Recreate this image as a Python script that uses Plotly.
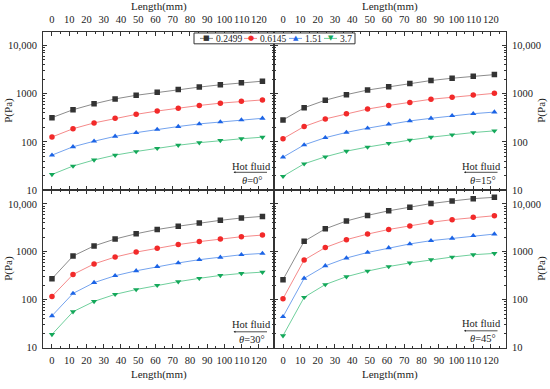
import plotly.graph_objects as go

length_mm = [0, 12.2, 24.4, 36.6, 48.8, 61.0, 73.2, 85.4, 97.6, 109.8, 122.0]
series_names = ["0.2499", "0.6145", "1.51", "3.7"]

p_theta0 = [
    [318, 464, 615, 778, 925, 1065, 1227, 1369, 1528, 1679, 1815],
    [126, 187, 247, 308, 372, 436, 501, 569, 635, 697, 742],
    [53, 79, 103, 130, 155, 181, 208, 236, 259, 285, 308],
    [21, 31.5, 42, 53, 63, 73.5, 85, 96, 107, 116, 125],
]
p_theta15 = [
    [285, 509, 731, 955, 1189, 1390, 1626, 1873, 2091, 2297, 2486],
    [116, 208, 299, 384, 479, 569, 655, 766, 841, 939, 1016],
    [48, 86.5, 122, 157, 192, 232, 272, 308, 349, 384, 415],
    [19.3, 35, 49, 64, 78, 93, 109, 125, 140, 156, 169],
]
p_theta30 = [
    [274, 815, 1328, 1849, 2380, 2923, 3423, 4005, 4545, 5075, 5490],
    [117, 336, 558, 777, 985, 1189, 1415, 1631, 1849, 2065, 2235],
    [46, 135, 227, 316, 401, 492, 585, 685, 765, 868, 925],
    [18.8, 56, 92, 129, 163, 200, 238, 279, 321, 353, 376],
]
p_theta45 = [
    [262, 1656, 3015, 4400, 5760, 7180, 8540, 10170, 11530, 12880, 13720],
    [105, 675, 1227, 1792, 2342, 2923, 3476, 4131, 4690, 5240, 5665],
    [44, 279, 508, 741, 968, 1208, 1460, 1709, 1908, 2168, 2344],
    [17.7, 112, 207, 302, 395, 492, 585, 685, 777, 868, 925],
]
panel_angles = ["0°", "15°", "30°", "45°"]
y_tickvals = [10, 100, 1000, 10000]
y_ticktext = ["10", "100", "1000", "10,000"]
x_tickvals = [0, 10, 20, 30, 40, 50, 60, 70, 80, 90, 100, 110, 120]

marker_colors = ["#333333", "#f22a2a", "#1c64e6", "#14a85a"]
line_colors = ["#8c8c8c", "#f58a8a", "#74a3ee", "#6fcf9c"]
symbols = ["square", "circle", "triangle-up", "triangle-down"]
legend_glyphs = ["■", "●", "▲", "▼"]

W, H = 550, 389
FONT = "Liberation Serif, Times New Roman, serif"

def px_x(v):
    return v / W

def px_y(v):
    return 1 - v / H

xl, xm, xr = 43, 274, 506
yt, ym, yb = 32, 193, 353

fig = go.Figure()
panels = [p_theta0, p_theta15, p_theta30, p_theta45]
for k, data in enumerate(panels):
    ax = "" if k == 0 else str(k + 1)
    for s in range(4):
        fig.add_trace(go.Scatter(
            x=length_mm, y=data[s], mode="lines+markers",
            name=series_names[s], showlegend=False,
            line=dict(color=line_colors[s], width=1),
            marker=dict(symbol=symbols[s], color=marker_colors[s], size=5.5),
            xaxis="x" + ax, yaxis="y" + ax,
        ))

doms_x = [[px_x(xl), px_x(xm)], [px_x(xm), px_x(xr)]] * 2
doms_y = [[px_y(ym), px_y(yt)]] * 2 + [[px_y(yb), px_y(ym)]] * 2
tick_font = dict(family=FONT, size=10.5, color="#222")

layout = {}
for k in range(4):
    ax = "" if k == 0 else str(k + 1)
    layout["xaxis" + ax] = dict(
        domain=doms_x[k], range=[-5.2, 128.7], anchor="y" + ax,
        side="top" if k < 2 else "bottom",
        tickvals=x_tickvals, ticks="inside", ticklen=4, tickcolor="#333", tickangle=0,
        minor=dict(ticks="inside", ticklen=2, tickcolor="#333", dtick=5, tick0=0, showgrid=False),
        showline=True, linecolor="#333", linewidth=1, mirror="ticks",
        showgrid=False, zeroline=False, tickfont=tick_font, ticklabelstandoff=3,
    )
    layout["yaxis" + ax] = dict(
        domain=doms_y[k], type="log", range=[1, 4.29], anchor="x" + ax,
        side="left" if k % 2 == 0 else "right",
        tickvals=y_tickvals, ticktext=y_ticktext, ticks="inside", ticklen=4,
        tickcolor="#333",
        minor=dict(ticks="inside", ticklen=2, tickcolor="#333", dtick="D1", showgrid=False),
        showline=True, linecolor="#333", linewidth=1, mirror="ticks",
        showgrid=False, zeroline=False, tickfont=tick_font, ticklabelstandoff=3,
    )

annotations = []
title_font = dict(family=FONT, size=11, color="#222")

def ann(text, x, y, font, **kw):
    d = dict(text=text, x=px_x(x), y=px_y(y), xref="paper", yref="paper", showarrow=False,
             xanchor="center", yanchor="middle", font=font, borderpad=0)
    d.update(kw)
    annotations.append(d)

for cx in [(xl + xm) / 2, (xm + xr) / 2]:
    ann("Length(mm)", cx, 7, title_font)
    ann("Length(mm)", cx, 380, title_font)
for cy in [(yt + ym) / 2, (ym + yb) / 2]:
    ann("P(Pa)", 9, cy, title_font, textangle=-90)
    ann("P(Pa)", 542, cy, title_font, textangle=-90)

small_font = dict(family=FONT, size=10.5, color="#222")
anchors = [(251, 169, 6, 14), (481.5, 169, 6, 14), (251, 330, 7, 15), (481.5, 329, 7, 15)]
for k, (ax_, ay_, dl, dt) in enumerate(anchors):
    ann("Hot fluid", ax_, ay_, small_font)
    annotations.append(dict(x=px_x(ax_ - 17.5), y=px_y(ay_ + dl), ax=35, ay=0,
                            xref="paper", yref="paper",
                            showarrow=True, arrowhead=2, arrowsize=0.5, arrowwidth=0.8,
                            arrowcolor="#222", text=""))
    ann("<i>θ</i>=" + panel_angles[k], ax_ + 1, ay_ + dt, small_font)

# compact legend box
shapes = [dict(type="rect", xref="paper", yref="paper",
               x0=px_x(194), x1=px_x(355), y0=px_y(44.5), y1=px_y(33.5),
               line=dict(color="#333", width=1), fillcolor="white", layer="above")]
leg_x = [200, 244, 289, 324]
text_x = [215, 259, 304, 339]
for s in range(4):
    x0 = leg_x[s]
    shapes.append(dict(type="line", xref="paper", yref="paper",
                       x0=px_x(x0), x1=px_x(x0 + 13), y0=px_y(39), y1=px_y(39),
                       line=dict(color=line_colors[s], width=1), layer="above"))
    ann(legend_glyphs[s], x0 + 6.5, 39, dict(family="DejaVu Sans", size=7, color=marker_colors[s]))
    ann(series_names[s], text_x[s], 39.5, dict(family=FONT, size=9.5, color="#222"), xanchor="left")

fig.update_layout(
    width=W, height=H, margin=dict(l=0, r=0, t=0, b=0),
    paper_bgcolor="white", plot_bgcolor="white",
    font=dict(family=FONT, color="#222"),
    showlegend=False,
    annotations=annotations,
    shapes=shapes,
    **layout,
)
fig.write_html("out.html", config={"displayModeBar": False},
               post_script="document.body.style.margin='0';document.body.style.overflow='hidden';")
